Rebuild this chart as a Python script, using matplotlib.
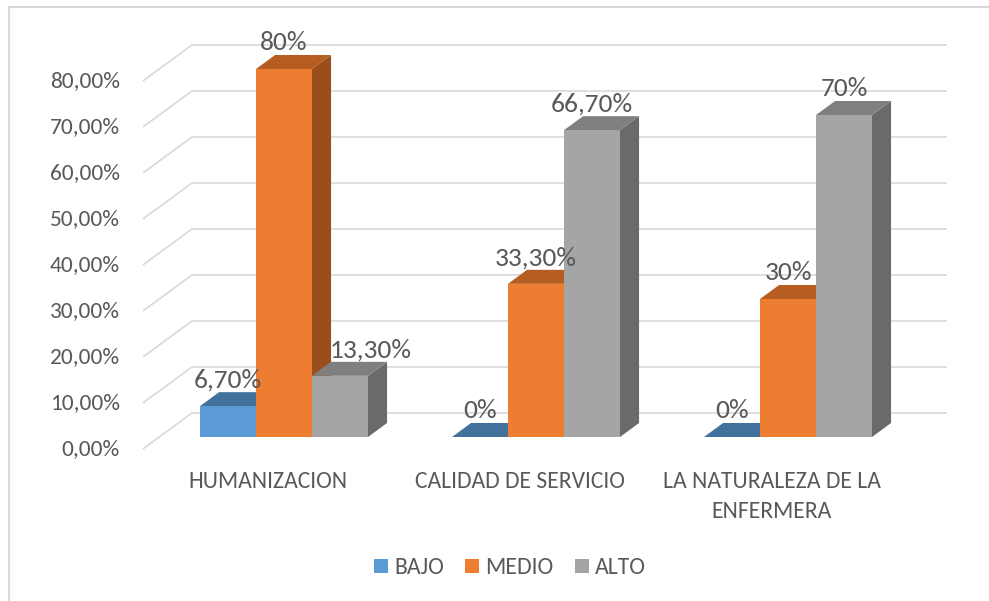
import matplotlib
matplotlib.use("Agg")
import matplotlib.pyplot as plt
from matplotlib.patches import Polygon, Rectangle, Patch

plt.rcParams['font.family'] = ['Carlito', 'Lato', 'DejaVu Sans']

# ---------------- data ----------------
categories = ["HUMANIZACION", "CALIDAD DE SERVICIO", "LA NATURALEZA DE LA\nENFERMERA"]
series_names = ["BAJO", "MEDIO", "ALTO"]
bajo = [6.7, 0.0, 0.0]
medio = [80.0, 33.3, 30.0]
alto = [13.3, 66.7, 70.0]
value_labels = [["6,70%", "0%", "0%"],
                ["80%", "33,30%", "30%"],
                ["13,30%", "66,70%", "70%"]]
yticks = [0, 10, 20, 30, 40, 50, 60, 70, 80]
ytick_labels = ["0,00%", "10,00%", "20,00%", "30,00%", "40,00%",
                "50,00%", "60,00%", "70,00%", "80,00%"]

# ---------------- styles ----------------
front_cols = ["#5B9BD5", "#ED7D31", "#A5A5A5"]
top_cols = ["#41719C", "#B65E22", "#7F7F7F"]
side_cols = ["#38618A", "#9A4E1C", "#6A6A6A"]
text_col = "#595959"
grid_col = "#D9D9D9"
label_dx_px = [[0, 0, 0], [0, 0, 0], [31, 0, 0]]

W, H, DPI = 989, 601, 100
fig = plt.figure(figsize=(W / DPI, H / DPI), dpi=DPI)
ax = fig.add_axes([0, 0, 1, 1])
ax.set_axis_off()
renderer = fig.canvas.get_renderer()


def fit_size(sample, target_px):
    t = fig.text(0, 0, sample, fontsize=20)
    w = t.get_window_extent(renderer).width
    t.remove()
    return 20.0 * target_px / w


fs_tick = fit_size("80,00%", 70)
fs_data = fit_size("66,70%", 82)
fs_cat = fit_size("HUMANIZACION", 159)
fs_leg = fit_size("MEDIO", 68)

# pixel scale of the axes
px_per_x = 252.0
px_per_y = 4.6
x0_px = 284.0     # front-plane centre of first category
y0_px = 437.0     # front-plane baseline (from top)
ax.set_xlim(-x0_px / px_per_x, (W - x0_px) / px_per_x)
ax.set_ylim((y0_px - H) / px_per_y, y0_px / px_per_y)

# depth (oblique projection): full depth of floor = 49 px right, 36 px up
DX = 49.0 / px_per_x
DY = 36.0 / px_per_y


def shift(z):
    return DX * z, DY * z


Z_FRONT = -1.0 / 3.0   # floor front edge relative to bar front plane
Z_BACK = 2.0 / 3.0     # back wall
Z_BAR = 14.0 / 36.0    # bar depth

x_left, x_right = -0.495, 2.501

# gridlines (back wall + side wall diagonal)
for v in yticks:
    fx, fy = shift(Z_FRONT)
    bx, by = shift(Z_BACK)
    ax.plot([x_left + fx, x_left + bx, x_right + bx], [v + fy, v + by, v + by],
            color=grid_col, lw=1.2, solid_capstyle='butt', zorder=1)

# y tick labels
for v, lab in zip(yticks, ytick_labels):
    fx, fy = shift(Z_FRONT)
    ax.text(x_left + fx - 23.0 / px_per_x, v + fy, lab, ha='right', va='center',
            fontsize=fs_tick, color=text_col)

# bars
bar_w = 56.0 / px_per_x
series = [bajo, medio, alto]
ddx, ddy = shift(Z_BAR)
for g in range(len(categories)):
    for s, vals in enumerate(series):
        v = vals[g]
        xl = g + (s - 1.5) * bar_w
        xr = xl + bar_w
        z = 10 + g * 3 + s
        side = Polygon([(xr, 0), (xr, v), (xr + ddx, v + ddy), (xr + ddx, ddy)],
                       closed=True, facecolor=side_cols[s], edgecolor='none', zorder=z)
        top = Polygon([(xl, v), (xr, v), (xr + ddx, v + ddy), (xl + ddx, v + ddy)],
                      closed=True, facecolor=top_cols[s], edgecolor='none', zorder=z)
        front = Rectangle((xl, 0), bar_w, v, facecolor=front_cols[s],
                          edgecolor='none', zorder=z)
        ax.add_patch(side)
        ax.add_patch(top)
        ax.add_patch(front)
        # data label
        ax.annotate(value_labels[s][g], xy=(g + (s - 1) * bar_w, v + ddy),
                    xytext=(label_dx_px[s][g] * 0.72, 12 * 0.72),
                    textcoords='offset points', ha='center', va='center',
                    fontsize=fs_data, color=text_col, zorder=50)

# category labels (each line placed separately)
fx, fy = shift(Z_FRONT)
for g, cat in enumerate(categories):
    for i, line in enumerate(cat.split("\n")):
        ax.annotate(line, xy=(g + fx, fy), xytext=(0, -(32 + 30 * i) * 0.72),
                    textcoords='offset points', ha='center', va='center',
                    fontsize=fs_cat, color=text_col)

# legend
handles = [Patch(facecolor=c, edgecolor='none') for c in front_cols]
em_px = fs_leg * DPI / 72.0
fig.legend(handles, series_names, loc='center', bbox_to_anchor=(510 / W, 1 - 568 / H),
           ncol=3, frameon=False, fontsize=fs_leg, labelcolor=text_col,
           handlelength=14 / em_px, handleheight=13 / em_px,
           handletextpad=6 / em_px, columnspacing=21 / em_px,
           borderpad=0, borderaxespad=0)

# chart border
fig.add_artist(Rectangle((9 / W, -0.01), 1.05, 1 - 7 / H + 0.01, transform=fig.transFigure,
                         fill=False, edgecolor="#D9D9D9", lw=1.5))

fig.savefig("out.png", dpi=DPI)
